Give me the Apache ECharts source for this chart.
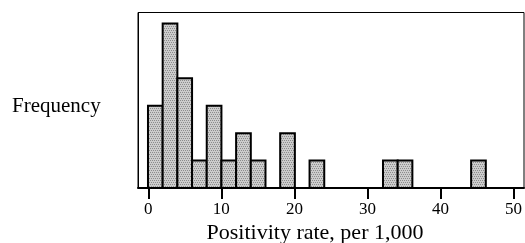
<!DOCTYPE html>
<html>
<head>
<meta charset="utf-8">
<script src="https://cdn.jsdelivr.net/npm/echarts@6/dist/echarts.min.js"></script>
<style>
  html, body { margin: 0; padding: 0; background: #fff; }
  #main { width: 525px; height: 243px; }
</style>
</head>
<body>
<div id="main"></div>
<script>
// histogram bins: left edge of each bin (width 2), and frequency
var binStarts = [0, 2, 4, 6, 8, 10, 12, 14, 18, 22, 32, 34, 44]
var counts    = [3, 6, 4, 1, 3, 1, 2, 1, 2, 1, 1, 1, 1]
var binWidth = 2
var tickValues = [0, 10, 20, 30, 40, 50]
var xTitle = 'Positivity rate, per 1,000'
var yTitle = 'Frequency'

var serif = 'Liberation Serif, DejaVu Serif, serif'

// stippled gray fill like the printed figure
function makePattern() {
  var c = document.createElement('canvas')
  c.width = 4; c.height = 4
  var ctx = c.getContext('2d')
  ctx.fillStyle = '#cccccc'
  ctx.fillRect(0, 0, 4, 4)
  ctx.fillStyle = '#8c8c8c'
  ctx.fillRect(0, 0, 1, 1)
  ctx.fillRect(2, 0, 1, 1)
  ctx.fillRect(1, 2, 1, 1)
  ctx.fillRect(3, 2, 1, 1)
  return c
}

var data = []
for (var i = 0; i < binStarts.length; i++) {
  data.push([binStarts[i], binStarts[i] + binWidth, counts[i]])
}

var chart = echarts.init(document.getElementById('main'))
var option = {
  animation: false,
  grid: [
    { left: 138, right: 1, top: 12.5, bottom: 55,
      show: true, borderColor: '#000', borderWidth: 1 },
    // second grid just for the tick marks 0..50
    { left: 148.3, right: 10.3, top: 12.5, bottom: 55 }
  ],
  graphic: [
    { type: 'text', left: 12, top: 96,
      style: { text: yTitle, fill: '#000', font: '21px ' + serif } },
    { type: 'text', x: 315, y: 233,
      style: { text: xTitle, fill: '#000', font: '22px ' + serif, align: 'center', verticalAlign: 'middle' } }
  ],
  xAxis: [{
    type: 'value',
    gridIndex: 0,
    min: -1.36,
    max: 51.2,
    splitLine: { show: false },
    axisLine: { show: true, onZero: false, lineStyle: { color: '#000', width: 2 } },
    axisTick: { show: false },
    axisLabel: { show: false }
  }, {
    type: 'value',
    gridIndex: 1,
    min: 0,
    max: 50,
    interval: 10,
    splitLine: { show: false },
    axisLine: { show: false, onZero: false },
    axisTick: { show: true, length: 11, lineStyle: { color: '#000', width: 2 } },
    axisLabel: { color: '#000', fontFamily: serif, fontSize: 17, margin: 13 }
  }],
  yAxis: [{
    type: 'value',
    gridIndex: 0,
    min: 0,
    max: 6.4,
    splitLine: { show: false },
    axisLine: { show: true, onZero: false, lineStyle: { color: '#000', width: 1 } },
    axisTick: { show: false },
    axisLabel: { show: false }
  }, {
    type: 'value',
    gridIndex: 1,
    show: false
  }],
  series: [{
    type: 'custom',
    xAxisIndex: 0,
    yAxisIndex: 0,
    renderItem: function (params, api) {
      var p0 = api.coord([api.value(0), api.value(2)])
      var p1 = api.coord([api.value(1), 0])
      return {
        type: 'rect',
        shape: { x: p0[0], y: p0[1], width: p1[0] - p0[0], height: p1[1] - p0[1] },
        style: {
          fill: { image: makePattern(), repeat: 'repeat' },
          stroke: '#000',
          lineWidth: 2
        }
      }
    },
    encode: { x: [0, 1], y: 2 },
    data: data
  }]
}
chart.setOption(option)
</script>
</body>
</html>
